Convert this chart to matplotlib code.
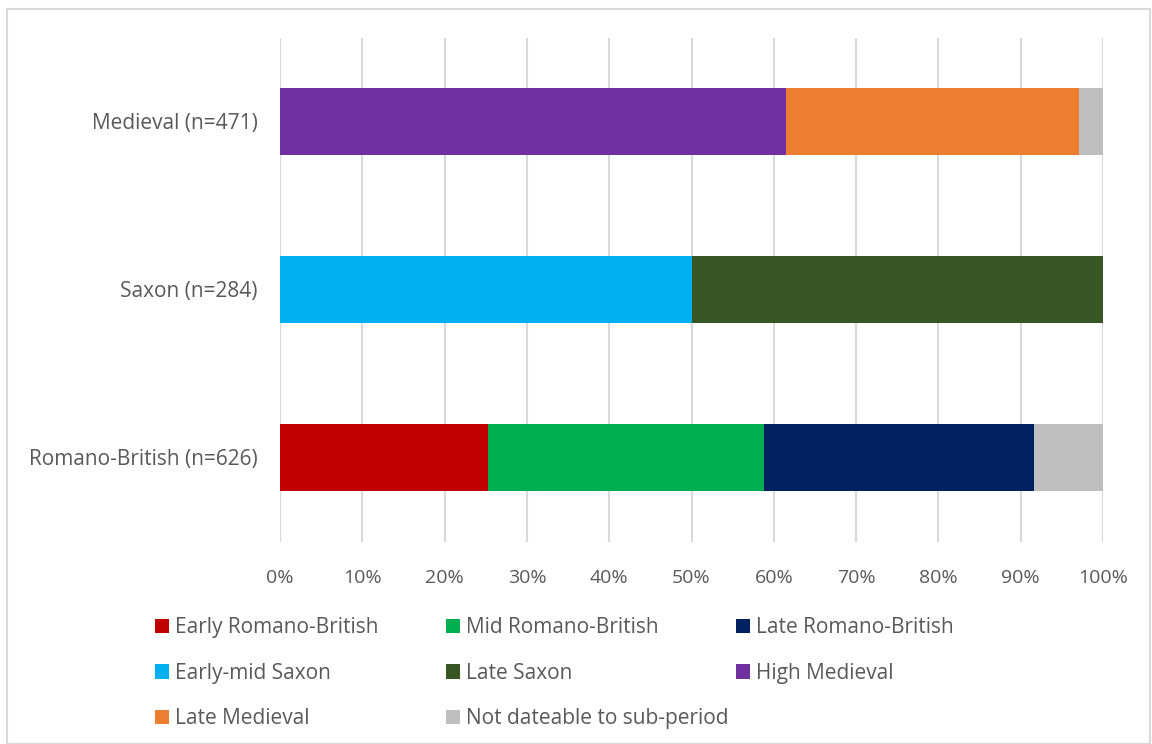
import numpy as np
import matplotlib.pyplot as plt
from matplotlib.patches import Rectangle, Patch

plt.rcParams['font.family'] = ['Open Sans', 'DejaVu Sans']

categories = ['Romano-British (n=626)', 'Saxon (n=284)', 'Medieval (n=471)']

# percentages per category: [Romano-British, Saxon, Medieval]
series = ['Early Romano-British', 'Mid Romano-British', 'Late Romano-British',
          'Early-mid Saxon', 'Late Saxon', 'High Medieval', 'Late Medieval',
          'Not dateable to sub-period']
early_rb = [25.3, 0, 0]
mid_rb = [33.5, 0, 0]
late_rb = [32.8, 0, 0]
early_mid_saxon = [0, 50.0, 0]
late_saxon = [0, 50.0, 0]
high_med = [0, 0, 61.5]
late_med = [0, 0, 35.6]
not_dateable = [8.4, 0, 2.9]

values = [early_rb, mid_rb, late_rb, early_mid_saxon, late_saxon,
          high_med, late_med, not_dateable]
colors = ['#c00000', '#00b050', '#002060', '#00b0f0', '#375623',
          '#7030a0', '#ed7d31', '#bfbfbf']
text_col = '#595959'

fig = plt.figure(figsize=(11.52, 7.44), dpi=100)
ax = fig.add_axes([280/1152, 1-541.5/744, 823/1152, 504/744])

y = np.arange(len(categories))
left = np.zeros(len(categories))
for vals, c in zip(values, colors):
    vals = np.array(vals, dtype=float)
    ax.barh(y, vals, left=left, height=0.4, color=c, zorder=3)
    left += vals

ax.set_xlim(0, 100)
ax.set_ylim(-0.5, 2.5)
ax.set_xticks(np.arange(0, 101, 10))
ax.set_xticklabels([f'{v}%' for v in range(0, 101, 10)])
ax.set_yticks(y)
ax.set_yticklabels(categories)
ax.grid(axis='x', color='#d9d9d9', linewidth=1.5, zorder=0)
for s in ax.spines.values():
    s.set_visible(False)
ax.tick_params(axis='both', length=0, labelcolor=text_col)
ax.tick_params(axis='x', pad=20, labelsize=14)
ax.tick_params(axis='y', pad=16, labelsize=15)

# legend: three fixed-width columns, read row-wise
col_x = [149, 440, 730]
cols = [[0, 3, 6], [1, 4, 7], [2, 5]]
for cx, idx in zip(col_x, cols):
    handles = [Patch(facecolor=colors[i], edgecolor='none') for i in idx]
    labels = [series[i] for i in idx]
    leg = fig.legend(handles, labels, loc='upper left',
                     bbox_to_anchor=(cx/1152, 1-611/744), frameon=False,
                     fontsize=15, handlelength=0.67, handleheight=0.67,
                     handletextpad=0.3, labelspacing=1.18, borderaxespad=0,
                     borderpad=0.3)
    for t in leg.get_texts():
        t.set_color(text_col)

fig.patches.append(Rectangle((7/1152, 0), 1143/1152, 1-9/744,
                             transform=fig.transFigure, fill=False,
                             edgecolor='#d9d9d9', linewidth=1.5))

fig.savefig('out.png', dpi=100)
